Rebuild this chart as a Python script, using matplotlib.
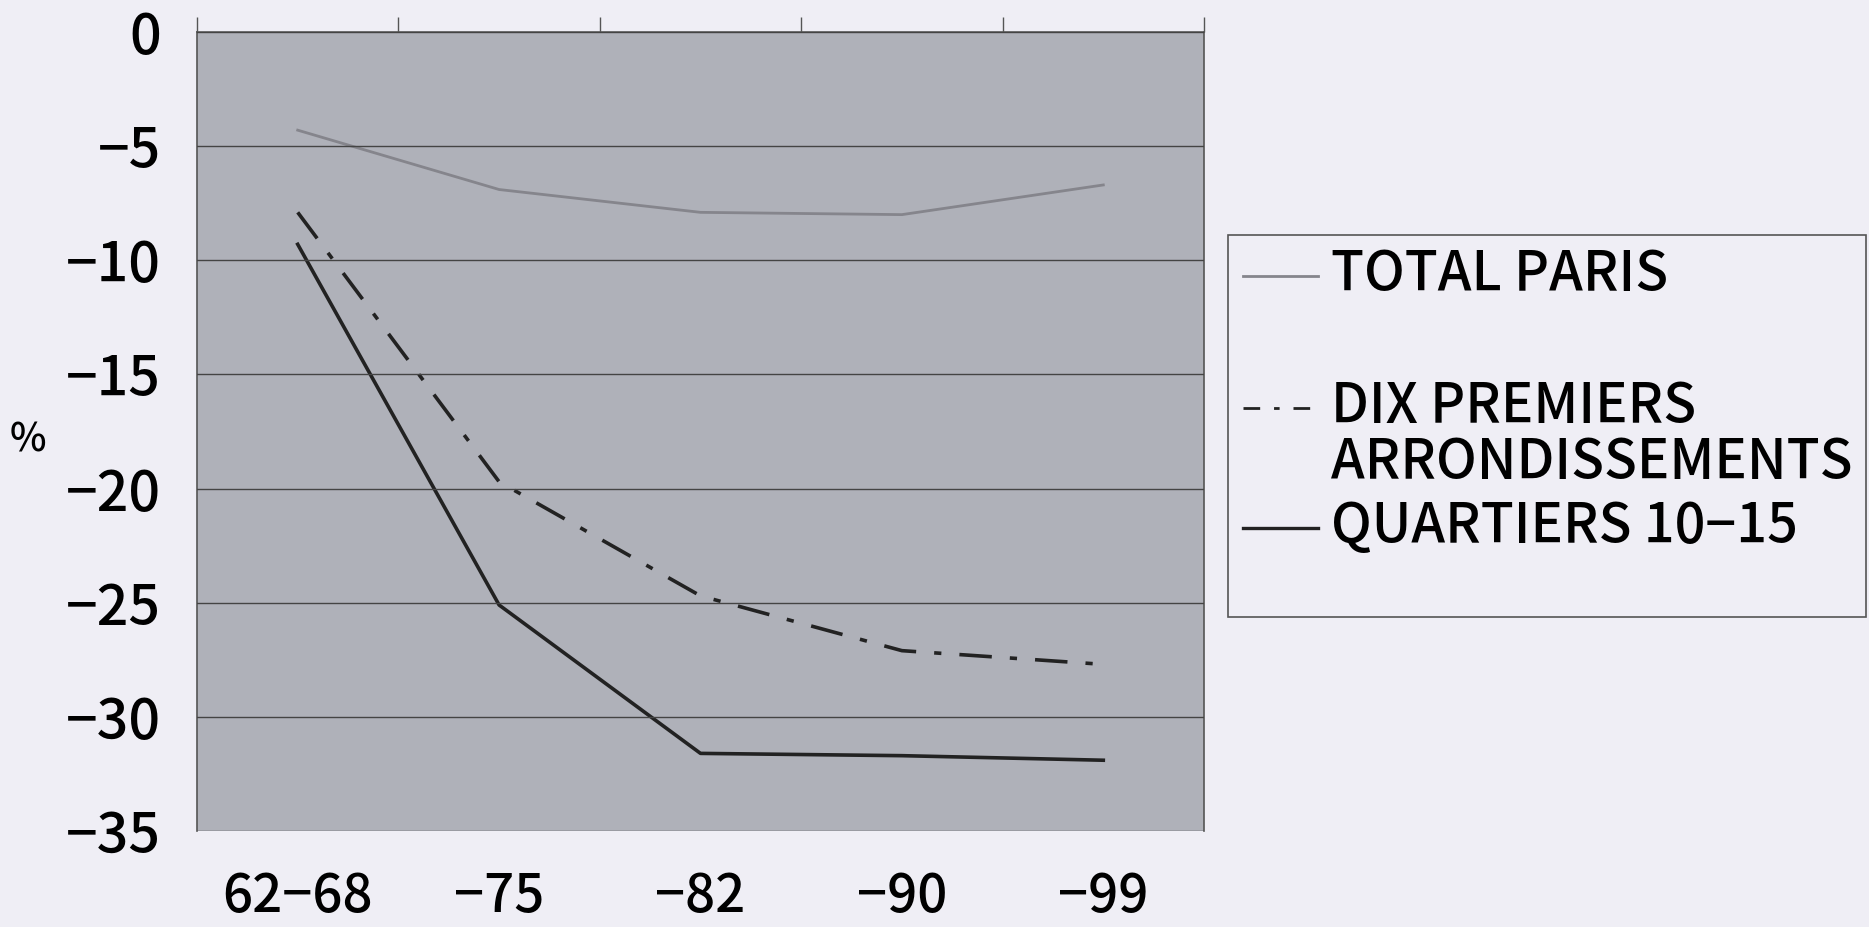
import numpy as np
import matplotlib.pyplot as plt
from matplotlib.lines import Line2D
from matplotlib.patches import Rectangle
from matplotlib.ticker import FixedLocator

periods = ['62-68', '-75', '-82', '-90', '-99']
total_paris = [-4.3, -6.9, -7.9, -8.0, -6.7]
dix_premiers = [-7.9, -19.7, -24.7, -27.1, -27.7]
quartiers = [-9.3, -25.1, -31.6, -31.7, -31.9]

W, H = 1869, 927
plt.rcParams['font.family'] = ['Noto Sans CJK JP', 'DejaVu Sans']
plt.rcParams['font.weight'] = 'medium'

fig = plt.figure(figsize=(W / 100, H / 100), dpi=100)
fig.patch.set_facecolor('#efeef5')

# axes box in pixel coords
left, right, top, bottom = 197, 1204, 32, 831
ax = fig.add_axes([left / W, 1 - bottom / H, (right - left) / W, (bottom - top) / H])
ax.set_facecolor('#afb1b9')

x = np.arange(len(periods))
ax.plot(x, total_paris, color='#85858c', lw=2)
ax.plot(x, dix_premiers, color='#222222', lw=2.6, dashes=(9, 5, 2, 5))
ax.plot(x, quartiers, color='#222222', lw=2.6)

ax.set_xlim(-0.5, len(periods) - 0.5)
ax.set_ylim(-35, 0)
ax.set_yticks(np.arange(-35, 1, 5))
ax.set_yticklabels(['\u221235', '\u221230', '\u221225', '\u221220', '\u221215', '\u221210', '\u22125', '0'])
ax.set_xticks(x)
ax.set_xticklabels([p.replace('-', '\u2212') for p in periods])
ax.xaxis.set_minor_locator(FixedLocator(np.arange(-0.5, len(periods), 1.0)))
ax.tick_params(axis='x', which='major', length=0, pad=28, labelsize=38)
ax.tick_params(axis='x', which='minor', top=True, bottom=False, length=11,
               direction='out', color='#555555', width=1)
ax.tick_params(axis='y', length=0, pad=26, labelsize=40)
ax.yaxis.grid(True, color='#444444', lw=1)
ax.set_axisbelow(False)
for s in ax.spines.values():
    s.set_color('#555555')
    s.set_linewidth(1.2)
ax.spines['bottom'].set_visible(False)

fig.text(28 / W, 1 - 440 / H, '%', fontsize=28, ha='center', va='center')

# legend drawn by hand
fig.patches.append(Rectangle((1228 / W, 1 - 617 / H), (1866 - 1228) / W, (617 - 235) / H,
                             transform=fig.transFigure, facecolor='none',
                             edgecolor='#555555', lw=1.2))
entries = [
    (276, '#85858c', 2, None, ['TOTAL PARIS']),
    (408, '#222222', 2, (6, 5, 2, 5), ['DIX PREMIERS', 'ARRONDISSEMENTS']),
    (528, '#222222', 2.4, None, ['QUARTIERS 10\u221215']),
]
for yy, col, lw, dash, lines in entries:
    ln = Line2D([1243 / W, 1318 / W], [1 - yy / H, 1 - yy / H], transform=fig.transFigure,
                color=col, lw=lw)
    if dash:
        ln.set_dashes(dash)
    fig.lines.append(ln)
    for i, t in enumerate(lines):
        fig.text(1331 / W, 1 - (yy - 1 + i * 56) / H, t, fontsize=39,
                 ha='left', va='center')

fig.savefig('out.png', dpi=100, facecolor=fig.get_facecolor())
